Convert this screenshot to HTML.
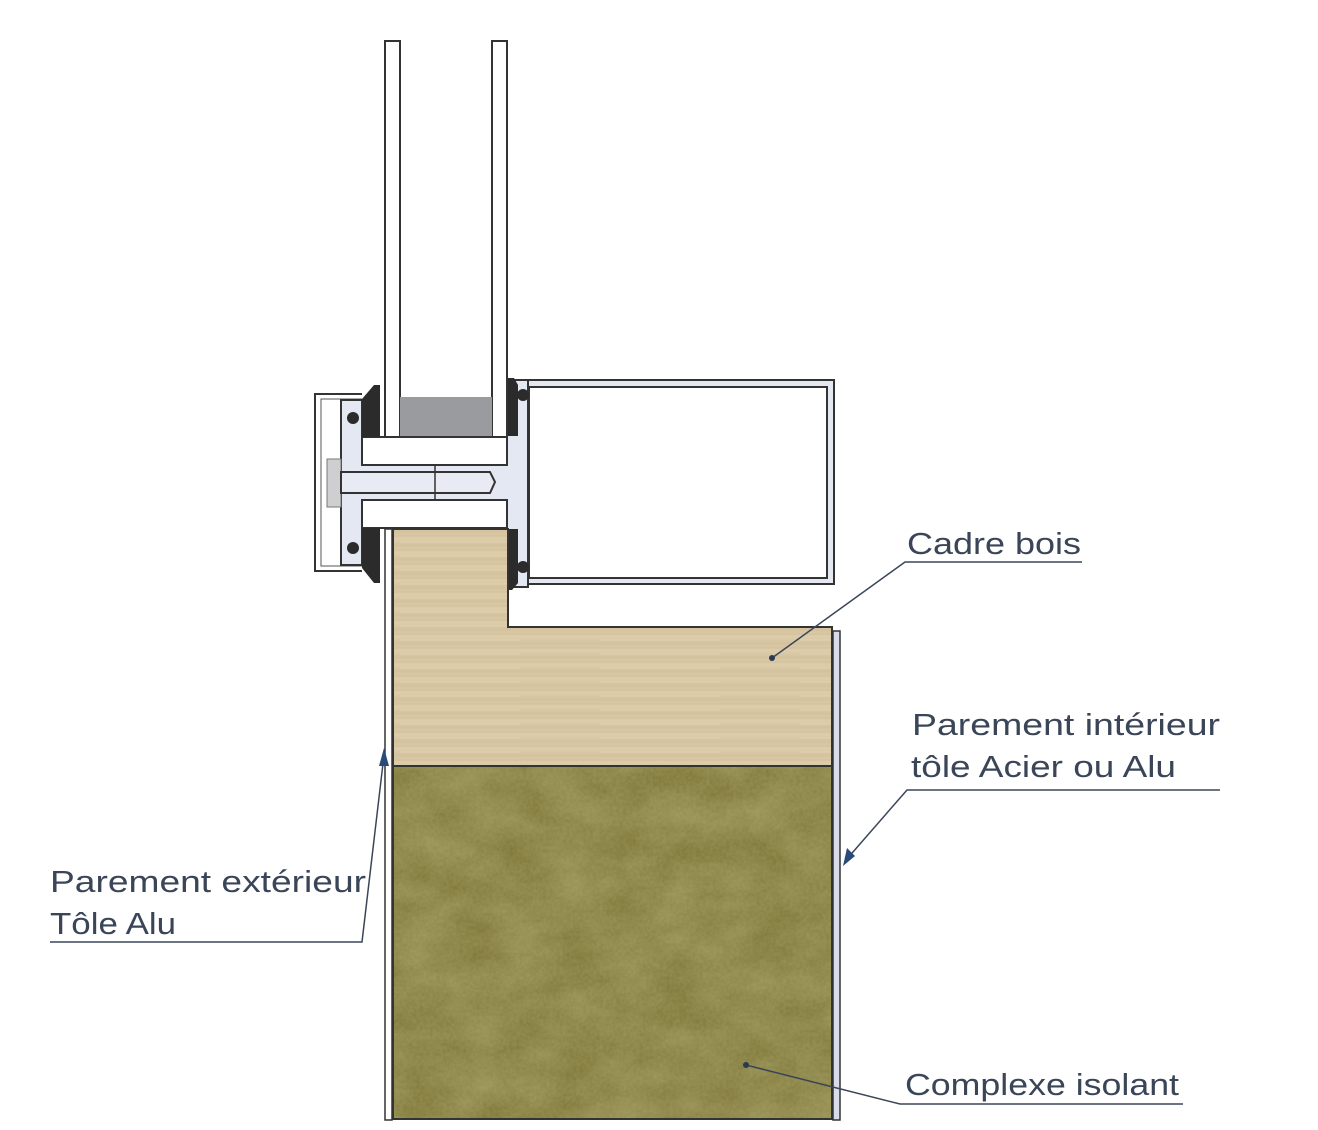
<!DOCTYPE html>
<html><head><meta charset="utf-8"><style>
html,body{margin:0;padding:0;background:#fff;}
svg{display:block;}
text{font-family:"Liberation Sans",sans-serif;fill:#3a4658;font-size:31px;}
</style></head><body>
<svg width="1318" height="1130" viewBox="0 0 1318 1130" xmlns="http://www.w3.org/2000/svg">
<defs>
<linearGradient id="wood" x1="0" y1="0" x2="0" y2="1">
<stop offset="0" stop-color="#d6c4a0"/><stop offset="0.5" stop-color="#ddcdab"/><stop offset="1" stop-color="#d3c19c"/>
</linearGradient>
<pattern id="grain" width="200" height="14" patternUnits="userSpaceOnUse">
<rect width="200" height="14" fill="url(#wood)"/>
<path d="M0 4 H200" stroke="#c9b690" stroke-width="1" opacity="0.5"/>
<path d="M0 10 H120" stroke="#e6d8bb" stroke-width="1" opacity="0.6"/>
</pattern>
<filter id="noise" x="0" y="0" width="100%" height="100%">
<feTurbulence type="fractalNoise" baseFrequency="0.02 0.03" numOctaves="4" seed="3"/>
<feColorMatrix type="matrix" values="0 0 0 0 0.62  0 0 0 0 0.58  0 0 0 0 0.3  0 0 0 0.45 -0.05"/>
</filter>
<filter id="noise2" x="0" y="0" width="100%" height="100%">
<feTurbulence type="fractalNoise" baseFrequency="0.3" numOctaves="2" seed="7"/>
<feColorMatrix type="matrix" values="0 0 0 0 0.7  0 0 0 0 0.68  0 0 0 0 0.4  0 0 0 0.2 0"/>
</filter>
</defs>

<rect x="385" y="41" width="15" height="400" fill="#fff" stroke="#333" stroke-width="2"/>
<rect x="492" y="41" width="15" height="400" fill="#fff" stroke="#333" stroke-width="2"/>
<rect x="400" y="397" width="92" height="40" fill="#9a9b9e"/>

<rect x="518" y="380" width="316" height="204" fill="#e4e8f0" stroke="#333" stroke-width="2"/>
<rect x="529" y="387" width="298" height="191" fill="#fff" stroke="#333" stroke-width="2"/>

<path d="M362 394 H315 V571 H362" fill="none" stroke="#333" stroke-width="2"/>
<path d="M362 399 H321 V566 H362" fill="none" stroke="#555" stroke-width="1"/>

<path d="M341 400 H362 V465 H507 V380 H528 V587 H507 V500 H362 V565 H341 Z" fill="#e4e8f2" stroke="#333" stroke-width="2"/>
<rect x="362" y="437" width="145" height="28" fill="#fff" stroke="#333" stroke-width="2"/>
<rect x="362" y="500" width="145" height="28" fill="#fff" stroke="#333" stroke-width="2"/>
<rect x="327" y="459" width="14" height="48" fill="#cfcfd2" stroke="#777" stroke-width="1"/>
<path d="M341 472 H490 L495 482 L490 493 H341 Z" fill="#e8ebf3" stroke="#333" stroke-width="2"/>
<line x1="435" y1="465" x2="435" y2="500" stroke="#333" stroke-width="1.5"/>

<path d="M362 399 L374 385 H380 V437 H362 Z" fill="#2b2b2b"/>
<path d="M362 528 H380 V583 L374 583 L362 568 Z" fill="#2b2b2b"/>
<path d="M508 378 H514 L518 385 V436 H508 Z" fill="#2b2b2b"/>
<path d="M508 529 H518 V583 L512 590 H508 Z" fill="#2b2b2b"/>
<circle cx="353" cy="418" r="6" fill="#2b2b2b"/><circle cx="353" cy="548" r="6" fill="#2b2b2b"/>
<circle cx="523" cy="395" r="6" fill="#2b2b2b"/><circle cx="523" cy="567" r="6" fill="#2b2b2b"/>

<rect x="385" y="529" width="7" height="591" fill="#fff" stroke="#333" stroke-width="1.5"/>

<path d="M393 529 H508 V627 H832 V766 H393 Z" fill="url(#grain)" stroke="#333" stroke-width="2"/>

<rect x="393" y="766" width="439" height="353" fill="#7c7434"/>
<rect x="393" y="766" width="439" height="353" filter="url(#noise)"/>
<rect x="393" y="766" width="439" height="353" filter="url(#noise2)"/>
<rect x="393" y="766" width="439" height="353" fill="none" stroke="#333" stroke-width="2"/>

<rect x="833" y="631" width="7" height="489" fill="#d8dcea" stroke="#333" stroke-width="1.5"/>

<g stroke="#3a4658" stroke-width="1.5" fill="none">
<path d="M1082 562 H905 L772 658"/>
<path d="M1220 790 H907 L846 860"/>
<path d="M50 942 H362 L384 755"/>
<path d="M1183 1104 H900 L746 1065"/>
</g>
<circle cx="772" cy="658" r="3" fill="#2a3a55"/>
<circle cx="746" cy="1065" r="3" fill="#2a3a55"/>
<path d="M843 866 L847 848 L855 856 Z" fill="#2a4a78"/>
<path d="M384 748 L379 766 L389 766 Z" fill="#2a4a78"/>

<text x="907" y="554" textLength="174" lengthAdjust="spacingAndGlyphs">Cadre bois</text>
<text x="912" y="735" textLength="308" lengthAdjust="spacingAndGlyphs">Parement intérieur</text>
<text x="911" y="777" textLength="265" lengthAdjust="spacingAndGlyphs">tôle Acier ou Alu</text>
<text x="50" y="892" textLength="316" lengthAdjust="spacingAndGlyphs">Parement extérieur</text>
<text x="50" y="934" textLength="126" lengthAdjust="spacingAndGlyphs">Tôle Alu</text>
<text x="905" y="1095" textLength="274" lengthAdjust="spacingAndGlyphs">Complexe isolant</text>
</svg>
</body></html>
